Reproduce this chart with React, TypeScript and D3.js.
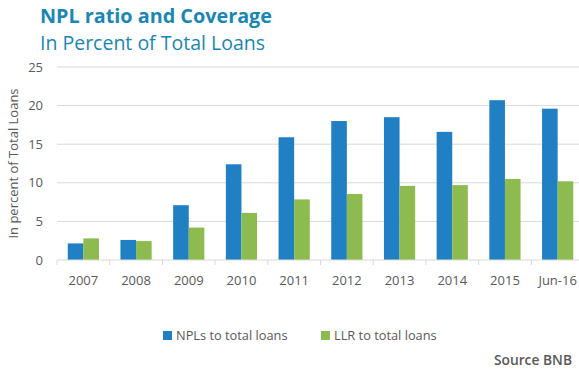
import React from "react";
import * as d3 from "d3";

const categories = ["2007", "2008", "2009", "2010", "2011", "2012", "2013", "2014", "2015", "Jun-16"];
const nplValues = [2.15, 2.6, 7.1, 12.4, 15.9, 18.0, 18.5, 16.6, 20.7, 19.6];
const llrValues = [2.8, 2.45, 4.2, 6.1, 7.85, 8.55, 9.6, 9.7, 10.5, 10.2];
const yTicks = [0, 5, 10, 15, 20, 25];
const seriesNames = ["NPLs to total loans", "LLR to total loans"];
const seriesColors = ["#2180c3", "#8dbb4f"];

const W = 579;
const H = 370;
const font = "'Open Sans', 'Noto Sans', sans-serif";

export default function App() {
  const x = d3.scaleBand<string>().domain(categories).range([57, 584]).padding(0);
  const y = d3.scaleLinear().domain([0, 25]).range([260, 67]);
  const bw = x.bandwidth();
  const barW = bw * 0.296;
  const off = (bw - 2 * barW) / 2;
  const series = [nplValues, llrValues];

  return (
    <svg width={W} height={H} style={{ position: "absolute", left: 0, top: 0, background: "#fff" }} fontFamily={font}>
      <text x={40} y={23} fontSize={19.8} fontWeight={700} fill="#1a86b5">NPL ratio and Coverage</text>
      <text x={40} y={50} fontSize={19.5} fill="#1a86b5">In Percent of Total Loans</text>

      {yTicks.map((t) => (
        <g key={t}>
          {t > 0 && <line x1={57} x2={W} y1={y(t)} y2={y(t)} stroke="#d9d9d9" strokeWidth={1} />}
          <text x={43} y={y(t)} dy="0.35em" textAnchor="end" fontSize={13} fill="#595959">{t}</text>
        </g>
      ))}
      <text transform={`translate(18,${(y(0) + y(25)) / 2}) rotate(-90)`} textAnchor="middle" fontSize={13} fill="#595959">
        In percent of Total Loans
      </text>

      {categories.map((c, i) => (
        <g key={c}>
          {series.map((vals, s) => (
            <rect
              key={s}
              x={(x(c) as number) + off + s * barW}
              y={y(vals[i])}
              width={barW}
              height={y(0) - y(vals[i])}
              fill={seriesColors[s]}
            />
          ))}
          <text x={(x(c) as number) + bw / 2} y={280} dy="0.35em" textAnchor="middle" fontSize={13} fill="#595959">{c}</text>
        </g>
      ))}
      <line x1={57} x2={W} y1={y(0)} y2={y(0)} stroke="#d9d9d9" strokeWidth={1} />
      {categories.map((c) => (
        <line key={c} x1={x(c) as number} x2={x(c) as number} y1={y(0)} y2={y(0) + 5} stroke="#d9d9d9" strokeWidth={1} />
      ))}

      {seriesNames.map((n, i) => {
        const lx = i === 0 ? 163 : 321;
        return (
          <g key={n}>
            <rect x={lx} y={331} width={9} height={9} fill={seriesColors[i]} />
            <text x={lx + 13} y={336} dy="0.35em" fontSize={12.8} fill="#595959">{n}</text>
          </g>
        );
      })}
      <text x={572} y={365} textAnchor="end" fontSize={13.8} fontWeight={600} fill="#595959">Source BNB</text>
    </svg>
  );
}
